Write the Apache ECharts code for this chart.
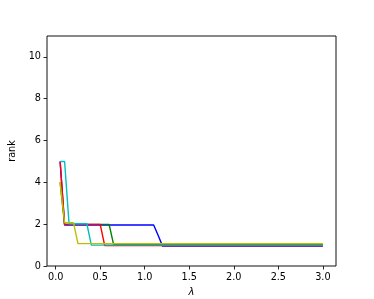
<!DOCTYPE html>
<html><head><meta charset="utf-8">
<script src="https://cdn.jsdelivr.net/npm/echarts@6/dist/echarts.min.js"></script>
<style>html,body{margin:0;padding:0;background:#fff}#c{width:374px;height:299px}</style>
</head><body><div id="c"></div>
<script>
// [lambda, rank] breakpoints
const blue   = [[0.05,5],[0.1,1.96],[1.1,1.96],[1.15,1.47],[1.2,0.95],[3.0,0.95]];
const green  = [[0.05,4],[0.1,1.99],[0.6,1.99],[0.65,1.03],[3.0,1.03]];
const red    = [[0.05,5],[0.1,1.99],[0.5,1.99],[0.55,0.98],[3.0,0.98]];
const cyan   = [[0.05,5],[0.1,5],[0.15,2.02],[0.35,2.02],[0.4,1.0],[3.0,1.0]];
const yellow = [[0.05,4],[0.1,2.07],[0.2,2.07],[0.25,1.07],[3.0,1.07]];
const xTicks = [0,0.5,1,1.5,2,2.5,3];
const yTicks = [0,2,4,6,8,10];
const colors = ['#0000ff','#008000','#ff0000','#00bfbf','#bfbf00'];
const seriesData = [blue, green, red, cyan, yellow];

const font = 'DejaVu Sans';
const chart = echarts.init(document.getElementById('c'), null, {renderer:'canvas'});
chart.setOption({
  animation:false,
  grid:{left:47,right:38,top:36,bottom:33,show:true,borderColor:'#111',borderWidth:1,backgroundColor:'transparent',
    containLabel:false,outerBoundsMode:'none'},
  xAxis:{type:'value',min:-0.0975,max:3.1475,
    name:'λ',nameLocation:'middle',nameGap:21,
    nameTextStyle:{fontFamily:font,fontSize:10,fontStyle:'italic',color:'#000'},
    axisLine:{show:false,onZero:false},splitLine:{show:false},
    axisTick:{show:true,inside:false,length:3.5,lineStyle:{color:'#111',width:0.9},customValues:xTicks},
    axisLabel:{fontFamily:font,fontSize:9.7,color:'#000',margin:6,customValues:xTicks,formatter:v=>v.toFixed(1)}},
  yAxis:{type:'value',min:0,max:11,
    name:'rank',nameLocation:'middle',nameGap:17,nameRotate:90,
    nameTextStyle:{fontFamily:font,fontSize:9.7,color:'#000'},
    axisLine:{show:false,onZero:false},splitLine:{show:false},
    axisTick:{show:true,inside:false,length:3.5,lineStyle:{color:'#111',width:0.9},customValues:yTicks},
    axisLabel:{fontFamily:font,fontSize:9.7,color:'#000',margin:6,customValues:yTicks,formatter:v=>String(v)}},
  series: seriesData.map((d,i)=>({type:'line',data:d,showSymbol:false,symbol:'none',
    lineStyle:{color:colors[i],width:1.4},itemStyle:{color:colors[i]},z:2+i}))
});
</script></body></html>
